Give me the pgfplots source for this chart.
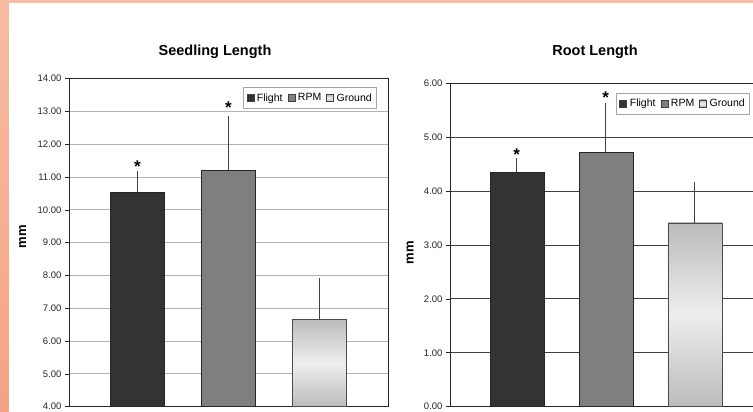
\documentclass[border=0pt]{standalone}
\usepackage{pgfplots}
\pgfplotsset{compat=1.18}
\usepackage{fontspec}
\setmainfont{Liberation Sans}
\definecolor{salmonA}{HTML}{F8BCA2}
\definecolor{salmonB}{HTML}{F5A382}
\definecolor{flc}{HTML}{333333}
\definecolor{rpmc}{HTML}{7F7F7F}
\definecolor{grA}{HTML}{BBBBBB}
\definecolor{grB}{HTML}{EEEEEE}
\tikzset{sigstar/.style={font=\bfseries\fontsize{17}{17}\selectfont}}
\pgfplotsset{
  panel/.style={
    scale only axis,
    xmin=-0.75, xmax=2.75, xtick=\empty,
    ymajorgrids,
    axis line style={black!85, line width=0.8pt},
    tick align=outside, major tick length=4pt, ytick pos=left,
    ytick style={black!85, line width=0.6pt},
    yticklabel style={font=\fontsize{9.5}{10}\selectfont, text=black!85,
      /pgf/number format/.cd, fixed, fixed zerofill, precision=2, assume math mode=true},
    legend columns=3,
    legend cell align=left,
    legend image code/.code={\draw[##1, draw=black!75, line width=0.4pt] (0pt,-3.5pt) rectangle (7pt,3.5pt);},
    legend style={font=\fontsize{10.5}{12}\selectfont, draw=black!35, line width=0.5pt,
      inner xsep=3pt, inner ysep=4pt,
      /tikz/every odd column/.append style={column sep=1pt},
      /tikz/every even column/.append style={column sep=3pt}},
  },
  errs/.style={error bars/.cd, y dir=plus, y explicit,
    error bar style={black!75, line width=0.6pt},
    error mark options={black!75, mark size=2pt, line width=0.6pt}},
  barbase/.style={ybar, bar width=54pt, bar shift=0pt, line width=0.5pt},
}
\begin{document}
\begin{tikzpicture}[x=1pt,y=1pt]
\useasboundingbox (0,0) rectangle (753,412);
\clip (0,0) rectangle (753,412);
\fill[salmonA] (0,0) rectangle (753,412);
\shade[top color=salmonA, bottom color=salmonB] (0,0) rectangle (8.5,412);
\fill[white] (8.5,0) rectangle (753,408.5);

% Left panel: Seedling Length
\begin{axis}[panel, at={(69pt,5.3pt)}, anchor=south west,
  width=319pt, height=328pt,
  ymin=4, ymax=14, ytick={4,5,...,14},
  grid style={black!30, line width=0.8pt},
  legend style={at={(0.9655,0.974)}, anchor=north east}]
\addplot[barbase, fill=flc, draw=black!85, errs] coordinates {(0,10.55) +- (0,0.58)};
\addplot[barbase, fill=rpmc, draw=black!85, errs] coordinates {(1,11.22) +- (0,1.58)};
\addplot[barbase, top color=grA, bottom color=grA, middle color=grB, draw=black!70, errs] coordinates {(2,6.67) +- (0,1.19)};
\legend{Flight,RPM,Ground}
\node[sigstar] at (axis cs:0,11.33) {*};
\node[sigstar] at (axis cs:1,13.13) {*};
\end{axis}

% Right panel: Root Length
\begin{axis}[panel, at={(450pt,5.3pt)}, anchor=south west,
  width=311.5pt, height=323.4pt,
  ymin=0, ymax=6, ytick={0,1,...,6},
  grid style={black!75, line width=0.8pt},
  legend style={at={(0.963,0.971)}, anchor=north east}]
\addplot[barbase, fill=flc, draw=black!85, errs] coordinates {(0,4.35) +- (0,0.23)};
\addplot[barbase, fill=rpmc, draw=black!85, errs] coordinates {(1,4.73) +- (0,0.87)};
\addplot[barbase, top color=grA, bottom color=grA, middle color=grB, draw=black!70, errs] coordinates {(2,3.41) +- (0,0.72)};
\legend{Flight,RPM,Ground}
\node[sigstar] at (axis cs:0,4.67) {*};
\node[sigstar] at (axis cs:1,5.74) {*};
\end{axis}

\node[font=\bfseries\fontsize{14.5}{16}\selectfont] at (215,360.3) {Seedling Length};
\node[font=\bfseries\fontsize{14.5}{16}\selectfont] at (595,360.3) {Root Length};
\node[font=\bfseries\fontsize{13}{14}\selectfont, rotate=90] at (22.7,175.3) {mm};
\node[font=\bfseries\fontsize{13}{14}\selectfont, rotate=90] at (410,159) {mm};
\end{tikzpicture}
\end{document}
